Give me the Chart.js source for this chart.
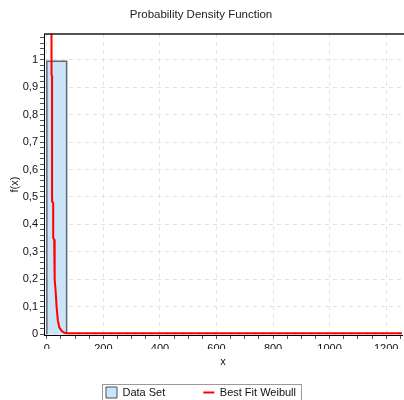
<!DOCTYPE html>
<html><head><meta charset="utf-8">
<script src="https://cdn.jsdelivr.net/npm/chart.js@4/dist/chart.umd.min.js"></script>
<style>html,body{margin:0;padding:0;background:#fff}canvas{display:block}</style>
</head><body>
<canvas id="c" width="404" height="400"></canvas>
<script>
const chartTitle = 'Probability Density Function';
const xTitle = 'x';
const yTitle = 'f(x)';
const seriesNames = ['Data Set', 'Best Fit Weibull'];
// histogram bins (density)
const binStart = [0];
const binEnd = [70];
const binDensity = [0.995];
// fitted Weibull pdf samples
const weibullX = [16.5, 16.6, 18.5, 18.6, 22.5, 22.6, 26, 26.1, 28.5, 28.6, 31, 34.5, 39, 44, 52, 62, 70, 1256];
const weibullY = [1.15, 0.946, 0.94, 0.484, 0.478, 0.351, 0.345, 0.26, 0.254, 0.198, 0.16, 0.10, 0.05, 0.025, 0.012, 0.005, 0.003, 0.003];
// axis ranges and tick steps
const xRange = [-10, 1256];
const yRange = [-0.003, 1.094];
const xMajor = 200, xMinor = 50;
const yMajor = 0.1, yMinor = 0.02;

const FONT = 'Liberation Sans, Arial, sans-serif';
const isMult = (v, s) => Math.abs(v / s - Math.round(v / s)) < 1e-6;

const histPts = [];
binStart.forEach((lo, i) => {
  histPts.push({x: lo, y: 0}, {x: lo, y: binDensity[i]}, {x: binEnd[i], y: binDensity[i]}, {x: binEnd[i], y: 0});
});
const curvePts = weibullX.map((x, i) => ({x, y: weibullY[i]}));

const frame = {
  id: 'frame',
  afterDraw(chart) {
    const {ctx, chartArea} = chart;
    ctx.save();
    ctx.strokeStyle = '#1a1a1a';
    ctx.lineWidth = 1.5;
    ctx.beginPath();
    ctx.moveTo(chartArea.left, chartArea.top);
    ctx.lineTo(chart.width, chartArea.top);
    ctx.stroke();
    const hb = chart.legend.legendHitBoxes;
    if (hb && hb.length) {
      const l = hb[0].left - 4, r = hb[hb.length - 1].left + hb[hb.length - 1].width + 5, t = hb[0].top - 3;
      ctx.strokeStyle = '#9a9a9a';
      ctx.lineWidth = 1;
      ctx.strokeRect(Math.round(l) + 0.5, Math.round(t) + 0.5, Math.round(r - l), 40);
    }
    ctx.restore();
  }
};

new Chart(document.getElementById('c'), {
  type: 'line',
  data: {
    datasets: [
      {label: seriesNames[0], data: histPts, borderColor: '#5e6873', borderWidth: 1.5,
       backgroundColor: '#cce4f8', fill: 'origin', pointRadius: 0, tension: 0, order: 1},
      {label: seriesNames[1], data: curvePts, borderColor: '#ff0000', borderWidth: 2,
       fill: false, pointRadius: 0, tension: 0, order: 0, clip: {left: 0, top: 0, right: 2, bottom: 2}}
    ]
  },
  options: {
    responsive: false, animation: false, devicePixelRatio: 1,
    layout: {padding: {left: 0, right: 2, top: 0, bottom: -8}},
    plugins: {
      title: {display: true, text: chartTitle, color: '#222', font: {family: FONT, size: 11.5, weight: 'normal'},
              padding: {top: 7.5, bottom: 12.7}},
      legend: {
        position: 'bottom',
        labels: {
          usePointStyle: true, pointStyleWidth: 11, boxHeight: 11, padding: 38,
          color: '#111', font: {family: FONT, size: 11},
          generateLabels: chart => chart.data.datasets.map((ds, i) => ({
            text: ds.label,
            fillStyle: i === 0 ? ds.backgroundColor : ds.borderColor,
            strokeStyle: i === 0 ? '#4a4f55' : ds.borderColor,
            lineWidth: i === 0 ? 1 : 2,
            pointStyle: i === 0 ? 'rect' : 'line',
            hidden: false, datasetIndex: i, fontColor: '#111'
          }))
        }
      },
      tooltip: {enabled: false}
    },
    scales: {
      x: {
        type: 'linear', min: xRange[0], max: xRange[1],
        afterFit: s => { s.height = 14; },
        border: {color: '#000', width: 1, dash: [4, 4]},
        grid: {color: c => isMult(c.tick.value, xMajor) ? '#e3e3e3' : 'rgba(0,0,0,0)',
               tickColor: '#555', tickLength: 4, tickBorderDash: []},
        ticks: {stepSize: xMinor, autoSkip: false, maxRotation: 0, includeBounds: false, padding: 3,
                color: '#111', font: {family: FONT, size: 11},
                callback: v => isMult(v, xMajor) ? String(Math.round(v)) : ''},
        title: {display: true, text: xTitle, color: '#111', font: {family: FONT, size: 11},
                padding: {top: 0, bottom: -19.6}}
      },
      y: {
        type: 'linear', min: yRange[0], max: yRange[1],
        afterFit: s => { s.width = 44; },
        border: {color: '#000', width: 1, dash: [4, 4]},
        grid: {color: c => isMult(c.tick.value, yMajor) ? '#e3e3e3' : 'rgba(0,0,0,0)',
               tickColor: '#555', tickLength: 4, tickBorderDash: []},
        ticks: {stepSize: yMinor, autoSkip: false, includeBounds: false, padding: 2,
                color: '#111', font: {family: FONT, size: 11},
                callback: v => isMult(v, yMajor) ? String(Math.round(v * 10) / 10).replace('.', ',') : ''},
        title: {display: true, text: yTitle, color: '#111', font: {family: FONT, size: 11},
                padding: {top: 8.4, bottom: 0}}
      }
    }
  },
  plugins: [frame]
});
</script>
</body></html>
